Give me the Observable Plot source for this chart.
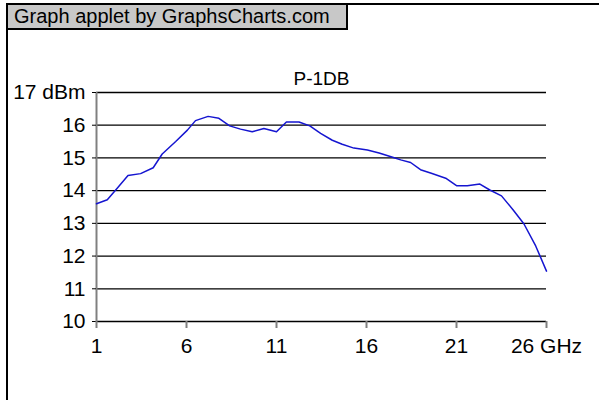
<!DOCTYPE html>
<html><head><meta charset="utf-8">
<script src="https://cdn.jsdelivr.net/npm/d3@7"></script>
<script src="https://cdn.jsdelivr.net/npm/@observablehq/plot@0.6"></script>
<style>
body{margin:0;background:#fff;font-family:"Liberation Sans",Arial,sans-serif;}
#wrap{position:relative;width:599px;height:400px;overflow:hidden;background:#fff;}
#wrap::before{content:"";position:absolute;left:6px;top:3px;width:800px;height:600px;border-left:2px solid #000;border-top:2px solid #000;box-sizing:border-box;}
#chart{position:absolute;left:0;top:0;}
#banner{position:absolute;left:6px;top:3px;width:342px;height:27px;padding:0 0 0 6px;background:#c8c8c8;border:2px solid #000;box-sizing:border-box;font-size:20px;line-height:23px;color:#000;white-space:nowrap;}
</style></head><body>
<div id="wrap"><div id="chart"></div><div id="banner">Graph applet by GraphsCharts.com</div></div>
<script>
const freqGHz = [1.0,1.6,2.15,2.75,3.45,4.15,4.65,5.4,6.05,6.5,7.2,7.8,8.4,9.0,9.65,10.3,11.0,11.55,12.25,12.85,13.45,14.1,14.65,15.3,16.05,16.7,17.45,17.9,18.45,19.0,19.6,20.4,21.0,21.6,22.3,22.85,23.5,24.15,24.75,25.4,26.0];
const p1dB = [13.60,13.72,14.07,14.46,14.52,14.70,15.12,15.50,15.85,16.14,16.27,16.21,15.98,15.88,15.80,15.90,15.80,16.10,16.10,15.98,15.75,15.54,15.42,15.30,15.24,15.15,15.02,14.94,14.86,14.64,14.53,14.38,14.15,14.15,14.20,14.02,13.84,13.41,12.98,12.31,11.54];
const xTicks = [1,6,11,16,21,26];
const yTicks = [10,11,12,13,14,15,16,17];
const title = "P-1DB";
const xUnit = "GHz";
const yUnit = "dBm";

const data = freqGHz.map((f,i)=>({f, v:p1dB[i]}));
const fs = 21;
const chart = Plot.plot({
  width:599, height:400,
  marginLeft:96, marginRight:53, marginTop:92, marginBottom:79,
  style:{fontFamily:'"Liberation Sans", Arial, sans-serif', background:"transparent", color:"#000"},
  x:{domain:[1,26]},
  y:{domain:[10,17]},
  marks:[
    Plot.ruleY(yTicks,{stroke:"#000",strokeWidth:1.3}),
    Plot.ruleX([1],{stroke:"#808080",strokeWidth:2}),
    Plot.axisY({ticks:yTicks, label:null, tickSize:4, tickPadding:7, fontSize:fs, stroke:"#000",
      tickFormat:d=> d===17 ? `17 ${yUnit}` : String(d)}),
    Plot.axisX({ticks:xTicks, label:null, tickSize:7, tickPadding:10, fontSize:fs, stroke:"#808080", strokeWidth:2,
      tickFormat:d=> d===26 ? `26 ${xUnit}` : String(d)}),
    Plot.line(data,{x:"f",y:"v",stroke:"#1515d0",strokeWidth:1.5}),
    Plot.text([title],{frameAnchor:"top",lineAnchor:"bottom",dy:-8,fontSize:19,fill:"#000"})
  ]
});
document.getElementById("chart").appendChild(chart);
</script>
</body></html>
